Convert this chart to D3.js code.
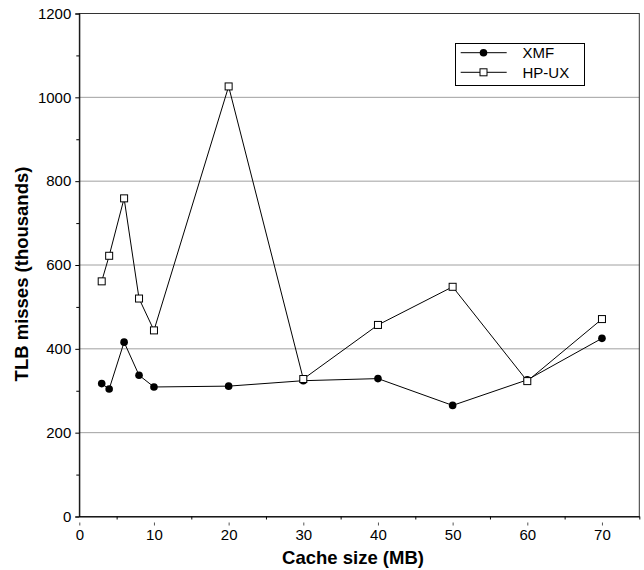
<!DOCTYPE html>
<html>
<head>
<meta charset="utf-8">
<script src="https://cdn.jsdelivr.net/npm/d3@7"></script>
<style>
  html, body { margin: 0; padding: 0; background: #fff; }
  svg text { font-family: "Liberation Sans", Arial, Helvetica, sans-serif; fill: #000; }
</style>
</head>
<body>
<svg id="chart" width="644" height="570"></svg>
<script>
// Cache size (MB) on the x axis
const cacheSizes = [3, 4, 6, 8, 10, 20, 30, 40, 50, 60, 70];
// TLB misses in thousands for each system
const xmfMisses  = [317, 304, 416, 337, 309, 311, 324, 329, 265, 326, 425];
const hpuxMisses = [561, 622, 759, 520, 444, 1026, 328, 457, 548, 323, 471];
const seriesNames = ["XMF", "HP-UX"];
const xTicks = [0, 10, 20, 30, 40, 50, 60, 70];
const yTicks = [0, 200, 400, 600, 800, 1000, 1200];

const svg = d3.select("#chart");
const plotLeft = 79.3, plotRight = 639.3, plotTop = 13.5, plotBottom = 516.5;

const x = d3.scaleLinear().domain([0, 75]).range([plotLeft, plotRight]);
const y = d3.scaleLinear().domain([0, 1200]).range([plotBottom, plotTop]);

// horizontal grid lines
svg.append("g")
  .selectAll("line")
  .data(yTicks.filter(v => v > 0 && v < 1200))
  .join("line")
  .attr("x1", plotLeft).attr("x2", plotRight)
  .attr("y1", d => y(d)).attr("y2", d => y(d))
  .attr("stroke", "#a0a0a0").attr("stroke-width", 1);

// plot frame
svg.append("rect")
  .attr("x", plotLeft).attr("y", plotTop)
  .attr("width", plotRight - plotLeft).attr("height", plotBottom - plotTop)
  .attr("fill", "none").attr("stroke", "#333").attr("stroke-width", 1);

// y axis with minor ticks every 100
const yAxis = d3.axisLeft(y).tickValues(yTicks).tickSize(4).tickPadding(4).tickFormat(d3.format("d"));
const gy = svg.append("g").attr("transform", `translate(${plotLeft},0)`).call(yAxis);
gy.select(".domain").attr("stroke", "#000");
gy.selectAll("text").style("font-size", "15px");
svg.append("g").attr("transform", `translate(${plotLeft},0)`)
  .call(d3.axisLeft(y).tickValues(d3.range(100, 1200, 200)).tickSize(3).tickFormat(""))
  .select(".domain").remove();

// x axis: labels, short detached major marks, minor ticks every 5
const xAxis = d3.axisBottom(x).tickValues(xTicks).tickSize(0).tickPadding(13).tickFormat(d3.format("d"));
const gx = svg.append("g").attr("transform", `translate(0,${plotBottom})`).call(xAxis);
gx.select(".domain").attr("stroke", "#000");
gx.selectAll("text").style("font-size", "15px");
gx.selectAll(".tick").append("line")
  .attr("y1", 6).attr("y2", 9).attr("stroke", "#555");
svg.append("g").attr("transform", `translate(0,${plotBottom})`)
  .call(d3.axisBottom(x).tickValues(d3.range(5, 80, 10)).tickSize(3).tickFormat(""))
  .select(".domain").remove();

// axis titles
svg.append("text")
  .attr("x", 353).attr("y", 564)
  .attr("text-anchor", "middle")
  .style("font-size", "18.5px").style("font-weight", "bold")
  .text("Cache size (MB)");
svg.append("text")
  .attr("transform", "translate(28,274) rotate(-90)")
  .attr("text-anchor", "middle")
  .style("font-size", "18.5px").style("font-weight", "bold")
  .text("TLB misses (thousands)");

const line = d3.line().x(d => x(d[0])).y(d => y(d[1]));
const xmfPts = cacheSizes.map((c, i) => [c, xmfMisses[i]]);
const hpPts = cacheSizes.map((c, i) => [c, hpuxMisses[i]]);

// HP-UX series: open squares
svg.append("path").datum(hpPts).attr("d", line)
  .attr("fill", "none").attr("stroke", "#000").attr("stroke-width", 1);
// XMF series: filled circles
svg.append("path").datum(xmfPts).attr("d", line)
  .attr("fill", "none").attr("stroke", "#000").attr("stroke-width", 1);

svg.append("g").selectAll("circle").data(xmfPts).join("circle")
  .attr("cx", d => x(d[0])).attr("cy", d => y(d[1])).attr("r", 3.8)
  .attr("fill", "#000");
svg.append("g").selectAll("rect").data(hpPts).join("rect")
  .attr("x", d => x(d[0]) - 3.5).attr("y", d => y(d[1]) - 3.5)
  .attr("width", 7).attr("height", 7)
  .attr("fill", "#fff").attr("stroke", "#000").attr("stroke-width", 1);

// legend
const lg = svg.append("g");
lg.append("rect").attr("x", 455.5).attr("y", 43.5).attr("width", 129).attr("height", 42)
  .attr("fill", "#fff").attr("stroke", "#000").attr("stroke-width", 1);
const legendRows = [52.7, 72.3];
seriesNames.forEach((name, i) => {
  const ly = legendRows[i];
  lg.append("line").attr("x1", 460.7).attr("x2", 506.7).attr("y1", ly).attr("y2", ly)
    .attr("stroke", "#000").attr("stroke-width", 1);
  if (i === 0) {
    lg.append("circle").attr("cx", 483.5).attr("cy", ly).attr("r", 3.8).attr("fill", "#000");
  } else {
    lg.append("rect").attr("x", 480).attr("y", ly - 3.5).attr("width", 7).attr("height", 7)
      .attr("fill", "#fff").attr("stroke", "#000");
  }
  lg.append("text").attr("x", 522.5).attr("y", ly + 5.2)
    .style("font-size", "15px").text(name);
});
</script>
</body>
</html>
